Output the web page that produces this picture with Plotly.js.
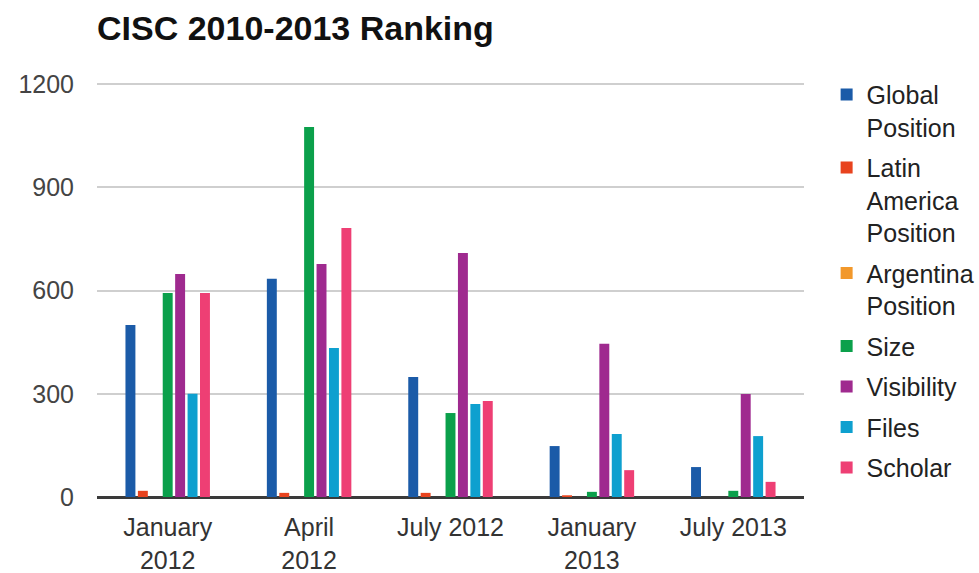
<!DOCTYPE html>
<html>
<head>
<meta charset="utf-8">
<script src="https://cdn.plot.ly/plotly-3.0.1.min.js"></script>
<style>html,body{margin:0;padding:0;background:#fff;}#chart{width:979px;height:573px;}</style>
</head>
<body>
<div id="chart"></div>
<script>
const categories = ["January<br>2012", "April<br>2012", "July 2012", "January<br>2013", "July 2013"];
const seriesNames = ["Global<br>Position", "Latin<br>America<br>Position", "Argentina<br>Position", "Size", "Visibility", "Files", "Scholar"];
const globalPosition = [500, 634, 349, 148, 87];
const latinAmericaPosition = [18, 12, 12, 5, null];
const argentinaPosition = [null, null, null, null, null];
const size = [593, 1075, 244, 15, 18];
const visibility = [648, 677, 709, 445, 299];
const files = [300, 433, 270, 183, 177];
const scholar = [593, 782, 279, 78, 44];
const colors = ["#1b5ba8", "#e8431e", "#f2982b", "#0ba04b", "#9f2a8f", "#0ea0cf", "#ee3f74"];
const yTicks = [0, 300, 600, 900, 1200];

const seriesValues = [globalPosition, latinAmericaPosition, argentinaPosition, size, visibility, files, scholar];
const traces = seriesValues.map((vals, i) => ({
  type: 'bar',
  name: seriesNames[i],
  x: categories,
  y: vals,
  marker: {color: colors[i]},
  legendgroup: 'g' + i,
  hoverinfo: 'x+y+name'
}));

const font = "'Liberation Sans', Arial, sans-serif";
const layout = {
  width: 979, height: 573,
  margin: {l: 97, r: 175, t: 83, b: 76, autoexpand: false},
  paper_bgcolor: '#fff', plot_bgcolor: '#fff',
  barmode: 'group', bargap: 0.385, bargroupgap: 0.2,
  title: {
    text: '<b>CISC 2010-2013 Ranking</b>',
    font: {family: font, size: 34, color: '#111'},
    x: 97/979, xref: 'container', xanchor: 'left',
    y: 1 - 28/573, yanchor: 'middle'
  },
  xaxis: {
    type: 'category', categoryorder: 'array', categoryarray: categories,
    tickfont: {family: font, size: 25, color: '#333'},
    showgrid: false, showline: false, zeroline: false,
    ticks: '', ticklabelstandoff: 13
  },
  yaxis: {
    range: [0, 1203], tickvals: yTicks, ticktext: yTicks.map(String),
    tickfont: {family: font, size: 25, color: '#444'},
    showgrid: true, gridcolor: '#cfcfcf', gridwidth: 2,
    zeroline: true, zerolinecolor: '#3a3a3a', zerolinewidth: 3,
    showline: false, ticks: '', ticklabelstandoff: 22, fixedrange: true
  },
  legend: {
    x: 1.032, xanchor: 'left', y: 1.027, yanchor: 'top',
    font: {family: font, size: 25, color: '#222'},
    traceorder: 'grouped', tracegroupgap: 5, bgcolor: 'rgba(0,0,0,0)',
    valign: 'top', maxheight: 1
  },
  showlegend: true
};

Plotly.newPlot('chart', traces, layout, {displayModeBar: false, staticPlot: true});
</script>
</body>
</html>
